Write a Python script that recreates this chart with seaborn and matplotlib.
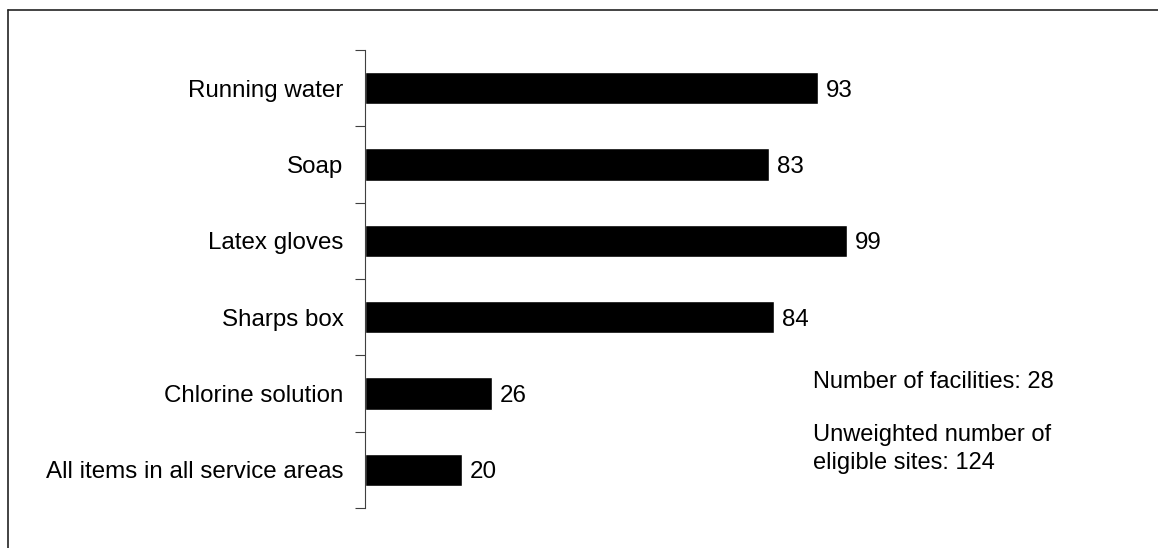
import pandas as pd
import matplotlib
matplotlib.use("Agg")
import matplotlib.pyplot as plt
from matplotlib.lines import Line2D
import seaborn as sns

# Data
items = ['Running water', 'Soap', 'Latex gloves', 'Sharps box',
         'Chlorine solution', 'All items in all service areas']
percent = [93, 83, 99, 84, 26, 20]

df = pd.DataFrame({'Item': items, 'Percent': percent})

sns.set_style("white", {'text.color': 'black', 'axes.labelcolor': 'black',
                        'ytick.color': 'black', 'xtick.color': 'black'})
plt.rcParams['font.family'] = ['Liberation Sans', 'DejaVu Sans']

fig = plt.figure(figsize=(11.58, 5.48), dpi=100)
ax = fig.add_axes([365 / 1158, 1 - 508 / 548, 487 / 1158, 458 / 548])

sns.barplot(data=df, x='Percent', y='Item', orient='h', color='black',
            width=0.42, ax=ax, saturation=1)

ax.set_xlim(0, 100)
ax.set_ylim(len(items) - 0.5, -0.5)
ax.set_xlabel('')
ax.set_ylabel('')
ax.set_xticks([])

# category labels without ticks, tick marks at category boundaries
ax.set_yticks(range(len(items)))
ax.set_yticklabels(items, fontsize=17.4, color='black')
ax.tick_params(axis='y', which='major', length=0, pad=15.5)
ax.set_yticks([i - 0.5 for i in range(len(items) + 1)], minor=True)
ax.tick_params(axis='y', which='minor', left=True, length=7, width=0.8,
               color='#404040', direction='out')

for s in ['top', 'right', 'bottom']:
    ax.spines[s].set_visible(False)
ax.spines['left'].set_color('#404040')
ax.spines['left'].set_linewidth(0.8)

for i, v in enumerate(percent):
    ax.text(v + 1.6, i, str(v), va='center_baseline', ha='left',
            fontsize=17.4, color='black')

fig.text(813 / 1158, 1 - 380 / 548, 'Number of facilities: 28',
         va='center_baseline', ha='left', fontsize=17, color='black')
fig.text(813 / 1158, 1 - 449 / 548, 'Unweighted number of\neligible sites: 124',
         va='center', ha='left', fontsize=17, linespacing=1.35, color='black')

# frame lines (top and left only)
fig.add_artist(Line2D([8 / 1158, 1], [1 - 10 / 548, 1 - 10 / 548],
                      transform=fig.transFigure, color='#222222', linewidth=1.2))
fig.add_artist(Line2D([8 / 1158, 8 / 1158], [0, 1 - 10 / 548],
                      transform=fig.transFigure, color='#222222', linewidth=1.2))

fig.savefig('out.png', dpi=100, facecolor='white')
